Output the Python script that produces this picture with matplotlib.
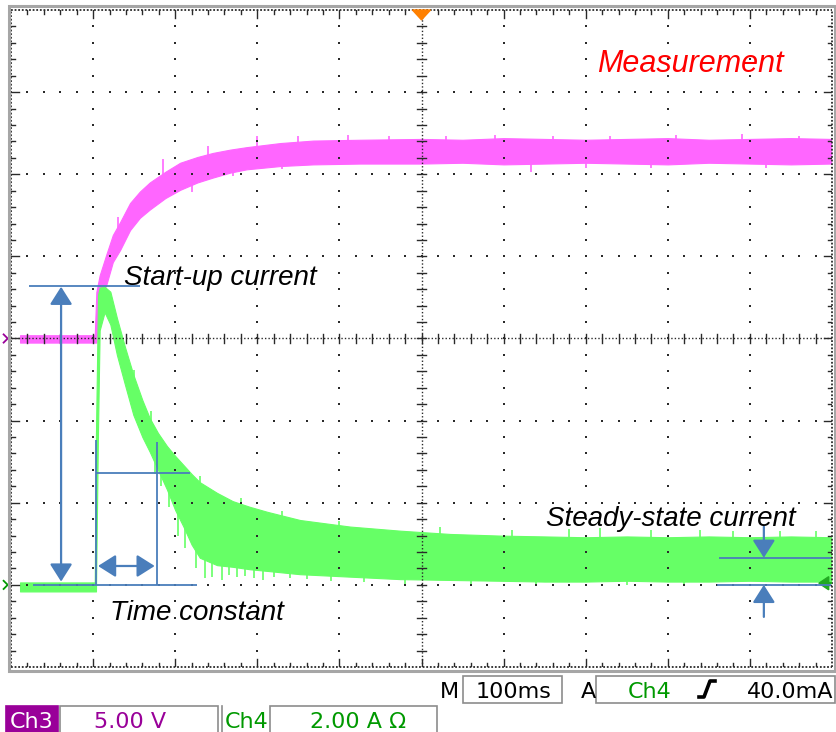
import numpy as np
import matplotlib
matplotlib.use("Agg")
import matplotlib.pyplot as plt
from matplotlib.patches import FancyArrowPatch, Rectangle, Polygon
from matplotlib.lines import Line2D

# ---------------- data (in screen divisions: 10 x 8) ----------------
# Ch3 (pink) trace envelope
pink_t = [0.11, 1.02, 1.04, 1.08, 1.16, 1.24, 1.33, 1.45, 1.57, 1.69, 1.88, 2.06,
          2.27, 2.46, 2.67, 2.87, 3.28, 3.68, 4.25, 5.0, 5.5, 6.0, 6.5, 7.0, 7.5,
          8.0, 8.5, 9.0, 9.5, 9.99]
pink_hi = [4.04, 4.04, 4.57, 4.77, 5.02, 5.26, 5.42, 5.65, 5.79, 5.90, 6.03, 6.14,
           6.21, 6.26, 6.30, 6.33, 6.38, 6.41, 6.42, 6.43, 6.42, 6.44, 6.43, 6.42,
           6.43, 6.44, 6.42, 6.43, 6.44, 6.43]
pink_lo = [3.95, 3.95, 3.95, 4.47, 4.65, 4.93, 5.08, 5.32, 5.47, 5.57, 5.71, 5.81,
           5.90, 5.96, 6.02, 6.06, 6.10, 6.12, 6.13, 6.13, 6.14, 6.12, 6.13, 6.14,
           6.13, 6.12, 6.14, 6.13, 6.12, 6.13]
pink_spike_t = [1.30, 1.85, 2.2, 2.4, 2.7, 3.0, 3.3, 3.5, 4.1, 4.6, 5.3, 5.9, 6.33,
                6.6, 7.0, 7.3, 7.8, 8.1, 8.9, 9.2, 9.6]
pink_spike_v = [5.48, 6.18, 5.78, 6.34, 5.98, 6.46, 6.06, 6.46, 6.48, 6.47, 6.47, 6.48,
                6.03, 6.47, 6.08, 6.47, 6.08, 6.48, 6.49, 6.08, 6.47]

# Ch4 (green) trace envelope
green_t = [0.11, 1.02, 1.035, 1.06, 1.08, 1.14, 1.21, 1.29, 1.39, 1.49, 1.60, 1.69,
           1.79, 1.90, 2.00, 2.10, 2.20, 2.30, 2.51, 2.70, 2.91, 3.12, 3.52, 4.13,
           4.74, 5.35, 5.96, 6.5, 7.0, 7.5, 8.0, 8.5, 9.0, 9.5, 9.99]
green_hi = [1.03, 1.03, 2.85, 4.53, 4.62, 4.63, 4.57, 4.25, 3.89, 3.56, 3.25, 3.03,
            2.85, 2.69, 2.57, 2.46, 2.35, 2.25, 2.12, 2.02, 1.95, 1.89, 1.79, 1.71,
            1.66, 1.62, 1.60, 1.59, 1.58, 1.59, 1.58, 1.59, 1.58, 1.59, 1.58]
green_lo = [0.92, 0.92, 0.92, 2.89, 4.10, 4.32, 4.17, 3.80, 3.43, 3.07, 2.80, 2.62,
            2.40, 2.16, 1.91, 1.71, 1.49, 1.33, 1.24, 1.22, 1.19, 1.17, 1.13, 1.10,
            1.07, 1.06, 1.05, 1.04, 1.04, 1.05, 1.04, 1.04, 1.05, 1.04, 1.04]
green_spike_t = [1.50, 1.70, 1.75, 1.83, 1.92, 2.03, 2.12, 2.25, 2.30, 2.36, 2.45,
                 2.57, 2.66, 2.75, 2.80, 2.85, 2.96, 3.07, 3.20, 3.30, 3.40, 3.60,
                 3.90, 4.00, 4.30, 4.80, 5.23, 5.60, 6.10, 6.40, 6.80, 7.17, 7.50,
                 7.80, 8.20, 8.39, 8.80, 9.37, 9.80]
green_spike_v = [3.62, 3.12, 2.35, 2.20, 1.95, 1.60, 1.45, 1.20, 2.32, 1.08, 1.10,
                 1.06, 1.12, 1.09, 2.06, 1.11, 1.08, 1.06, 1.10, 1.90, 1.08, 1.07,
                 1.05, 1.78, 1.03, 1.01, 1.71, 1.00, 1.67, 0.99, 1.68, 1.69, 1.00,
                 1.67, 0.99, 1.67, 1.66, 1.66, 1.66]

# annotations
label_measure = "Measurement"
label_startup = "Start-up current"
label_tau = "Time constant"
label_steady = "Steady-state current"
status_row1 = ["M", "100ms", "A", "Ch4", "40.0mA"]
status_row2 = ["Ch3", "5.00 V", "Ch4", "2.00 A \u03a9"]

# ---------------- styling ----------------
PINK = "#ff66ff"
GREEN = "#66ff66"
BLUE = "#4a7ebb"
DOT = "#2a2a2a"
PURPLE = "#990099"
DGREEN = "#009900"

W, H = 836, 732
fig = plt.figure(figsize=(W / 100, H / 100), dpi=100)
fig.patch.set_facecolor("white")
ax = fig.add_axes([11 / W, 65 / H, 821 / W, 657 / H])
ax.set_xlim(0, 10)
ax.set_ylim(0, 8)
ax.axis("off")

def fx(px):
    return px / W

def fy(py):
    return 1 - py / H

# traces
ax.fill_between(pink_t, pink_lo, pink_hi, color=PINK, lw=0.8, ec=PINK, zorder=2)
pc = np.interp(pink_spike_t, pink_t, [(a + b) / 2 for a, b in zip(pink_lo, pink_hi)])
ax.vlines(pink_spike_t, pc, pink_spike_v, color=PINK, lw=1.2, zorder=2)
ax.fill_between(green_t, green_lo, green_hi, color=GREEN, lw=0.8, ec=GREEN, zorder=2)
gc = np.interp(green_spike_t, green_t, [(a + b) / 2 for a, b in zip(green_lo, green_hi)])
ax.vlines(green_spike_t, gc, green_spike_v, color=GREEN, lw=1.2, zorder=2)

# graticule
steps_y = np.round(np.arange(0.2, 7.81, 0.2), 2)
steps_x = np.round(np.arange(0.2, 9.81, 0.2), 2)
for gx in [1, 2, 3, 4, 6, 7, 8, 9]:
    ax.plot([gx] * len(steps_y), steps_y, ls="none", marker="s", ms=1.7, mew=0, color=DOT, zorder=3)
for gy in [1, 2, 3, 5, 6, 7]:
    ax.plot(steps_x, [gy] * len(steps_x), ls="none", marker="s", ms=1.7, mew=0, color=DOT, zorder=3)
# centre lines
ax.plot([5, 5], [0, 8], ls=(0, (1, 1.5)), lw=1.0, color=DOT, zorder=3)
ax.plot([0, 10], [4, 4], ls=(0, (1, 1.5)), lw=1.0, color=DOT, zorder=3)
for v in steps_y:
    ax.plot([4.95, 5.05], [v, v], lw=1.0, color=DOT, zorder=3)
for v in steps_x:
    ax.plot([v, v], [3.95, 4.05], lw=1.0, color=DOT, zorder=3)
# border rulers
for (x0, x1, y0, y1) in [(0, 10, 0, 0), (0, 10, 8, 8), (0, 0, 0, 8), (10, 10, 0, 8)]:
    ax.plot([x0, x1], [y0, y1], ls=(0, (1, 1)), lw=1.3, color=DOT, zorder=3, clip_on=False)
for v in steps_x:
    ln = 0.1 if abs(v - round(v)) < 1e-6 else 0.05
    ax.plot([v, v], [0, ln], lw=1.0, color=DOT, zorder=3)
    ax.plot([v, v], [8, 8 - ln], lw=1.0, color=DOT, zorder=3)
for v in steps_y:
    ln = 0.1 if abs(v - round(v)) < 1e-6 else 0.05
    ax.plot([0, ln], [v, v], lw=1.0, color=DOT, zorder=3)
    ax.plot([10, 10 - ln], [v, v], lw=1.0, color=DOT, zorder=3)

# outer grey frame
fig.patches.append(Rectangle((fx(8.5), fy(670.5)), fx(834.5) - fx(8.5), fy(6) - fy(670.5),
                             transform=fig.transFigure, fill=False, ec="#a6a6a6", lw=2.2))

# markers
ax.add_patch(Polygon([[4.89, 8.0], [5.11, 8.0], [5.0, 7.88]], closed=True, color="#ff8000",
                     zorder=5, clip_on=False))
ax.add_line(Line2D([-0.09, -0.04, -0.09], [4.05, 4.0, 3.95], color=PURPLE, lw=1.3, clip_on=False))
ax.add_line(Line2D([-0.09, -0.04, -0.09], [1.05, 1.0, 0.95], color=DGREEN, lw=1.3, clip_on=False))
ax.add_patch(Polygon([[9.84, 1.02], [9.96, 1.10], [9.96, 0.94]], closed=True, color="#22aa22", zorder=5))
ax.plot([9.9, 9.99], [1.02, 1.02], color="#22aa22", lw=1.5, zorder=5)

# blue annotation lines
lw_b = 1.3
for xs, ys in [([0.22, 1.57], [4.64, 4.64]),
               ([0.27, 2.27], [1.0, 1.0]),
               ([1.035, 1.035], [1.0, 2.76]),
               ([1.78, 1.78], [1.0, 2.74]),
               ([1.035, 2.18], [2.36, 2.36]),
               ([8.62, 9.99], [1.33, 1.33]),
               ([8.60, 9.99], [1.0, 1.0])]:
    ax.plot(xs, ys, color=BLUE, lw=lw_b, zorder=6, solid_capstyle="butt")

def arrow(p0, p1, style):
    ax.add_patch(FancyArrowPatch(p0, p1, arrowstyle=style, mutation_scale=18, color=BLUE,
                                 lw=1.6, shrinkA=0, shrinkB=0, zorder=6))

arrow((0.61, 1.04), (0.61, 4.63), "<|-|>,head_length=0.6,head_width=0.38")
arrow((1.06, 1.23), (1.75, 1.23), "<|-|>,head_length=0.6,head_width=0.38")
arrow((9.17, 1.71), (9.17, 1.33), "-|>,head_length=0.6,head_width=0.38")
arrow((9.17, 0.61), (9.17, 1.0), "-|>,head_length=0.6,head_width=0.38")

# annotation texts
tfam = ["Liberation Sans", "DejaVu Sans"]
ax.text(8.27, 7.25, label_measure, color="#ff0000", fontsize=22, style="italic",
        family=tfam, ha="center", va="baseline", zorder=7)
ax.text(1.38, 4.65, label_startup, color="black", fontsize=20, style="italic",
        family=tfam, ha="left", va="baseline", zorder=7)
ax.text(1.21, 0.57, label_tau, color="black", fontsize=20, style="italic",
        family=tfam, ha="left", va="baseline", zorder=7)
ax.text(6.52, 1.72, label_steady, color="black", fontsize=20, style="italic",
        family=tfam, ha="left", va="baseline", zorder=7)

# status bar
sfs = 16
BOXC = "#8c8c8c"
def box(x0, y0, x1, y1, fill=None):
    r = Rectangle((fx(x0), fy(y1)), fx(x1) - fx(x0), fy(y0) - fy(y1), transform=fig.transFigure,
                  fill=fill is not None, fc=fill if fill else "none",
                  ec=fill if fill else BOXC, lw=1.2)
    fig.patches.append(r)

box(463, 676, 562, 703)
box(596, 676, 835, 703)
fig.text(fx(440), fy(698), status_row1[0], fontsize=sfs, color="black", va="baseline")
fig.text(fx(513), fy(698), status_row1[1], fontsize=sfs, color="black", va="baseline", ha="center")
fig.text(fx(581), fy(698), status_row1[2], fontsize=sfs, color="black", va="baseline")
fig.text(fx(628), fy(698), status_row1[3], fontsize=sfs, color=DGREEN, va="baseline")
fig.lines.append(Line2D([fx(699), fx(704), fx(710), fx(715)], [fy(697), fy(697), fy(681), fy(681)],
                        transform=fig.transFigure, color="black", lw=2.6))
fig.text(fx(833), fy(698), status_row1[4], fontsize=sfs, color="black", va="baseline", ha="right")

box(6, 706, 58, 732, fill=PURPLE)
box(60, 706, 218, 733)
box(270, 706, 437, 733)
fig.lines.append(Line2D([fx(222), fx(222)], [fy(706), fy(732)], transform=fig.transFigure,
                        color=BOXC, lw=1.2))
fig.text(fx(32), fy(728), status_row2[0], fontsize=sfs, color="white", va="baseline", ha="center")
fig.text(fx(130), fy(728), status_row2[1], fontsize=sfs, color=PURPLE, va="baseline", ha="center")
fig.text(fx(225), fy(728), status_row2[2], fontsize=sfs, color=DGREEN, va="baseline")
fig.text(fx(358), fy(728), status_row2[3], fontsize=sfs, color=DGREEN, va="baseline", ha="center")

fig.savefig("out.png", dpi=100, facecolor="white")
